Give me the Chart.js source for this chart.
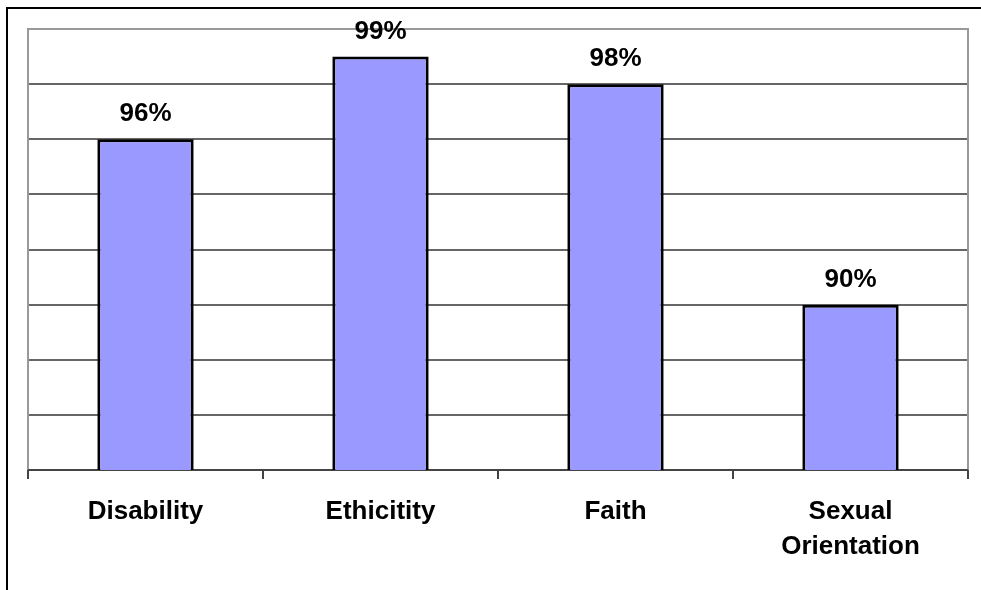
<!DOCTYPE html>
<html>
<head>
<meta charset="utf-8">
<script src="https://cdn.jsdelivr.net/npm/chart.js@4"></script>
<style>
  html, body { margin: 0; padding: 0; background: #fff; overflow: hidden; }
  #frame { position: absolute; left: 6px; top: 7px; width: 1000px; height: 600px;
           border-left: 2px solid #000; border-top: 2px solid #000; }
  #mainChart { position: absolute; left: 0; top: 0; }
</style>
</head>
<body>
<div id="frame"></div>
<canvas id="mainChart" width="981" height="590"></canvas>
<script>
const categories = ['Disability', 'Ethicitity', 'Faith', ['Sexual', 'Orientation']];
const percentages = [96, 99, 98, 90];
const yMin = 84;
const yMax = 100;
const yStep = 2;

const labelFont = { family: "'Liberation Sans', Arial, sans-serif", size: 26, weight: 'bold', lineHeight: '35px' };

// outline of the plot area (gray box)
const plotFrame = {
    id: 'plotFrame',
    beforeDatasetsDraw(chart) {
        const { ctx, chartArea: a } = chart;
        ctx.save();
        ctx.strokeStyle = '#999';
        ctx.lineWidth = 2;
        ctx.beginPath();
        ctx.moveTo(a.left, a.bottom);
        ctx.lineTo(a.left, a.top);
        ctx.lineTo(a.right, a.top);
        ctx.lineTo(a.right, a.bottom);
        ctx.stroke();
        ctx.strokeStyle = '#444';
        ctx.beginPath();
        ctx.moveTo(a.left, a.bottom);
        ctx.lineTo(a.right, a.bottom);
        ctx.stroke();
        ctx.restore();
    }
};

// value labels above the bars
const barValues = {
    id: 'barValues',
    afterDatasetsDraw(chart) {
        const { ctx } = chart;
        ctx.save();
        ctx.font = "bold 26px 'Liberation Sans', Arial, sans-serif";
        ctx.fillStyle = '#000';
        ctx.textAlign = 'center';
        ctx.textBaseline = 'alphabetic';
        chart.getDatasetMeta(0).data.forEach((bar, i) => {
            ctx.fillText(percentages[i] + '%', bar.x, bar.y - 18);
        });
        ctx.restore();
    }
};

new Chart(document.getElementById('mainChart'), {
    type: 'bar',
    data: {
        labels: categories,
        datasets: [{
            label: 'Percent',
            data: percentages,
            backgroundColor: '#9999FF',
            borderColor: '#000',
            borderWidth: 3,
            borderSkipped: false,
            categoryPercentage: 1,
            barPercentage: 0.41,
        }]
    },
    options: {
        responsive: false,
        animation: false,
        layout: {
            padding: { left: 28, top: 29, right: 13, bottom: 0 }
        },
        scales: {
            y: {
                min: yMin,
                max: yMax,
                ticks: { display: false, stepSize: yStep },
                grid: {
                    drawTicks: false,
                    color: (c) => (c.tick && c.tick.value === yMax) ? '#999' : '#666',
                    lineWidth: 2,
                },
                border: { display: false }
            },
            x: {
                afterFit: (scale) => { scale.height = 120; },
                ticks: {
                    color: '#000',
                    font: labelFont,
                    padding: 15,
                    maxRotation: 0,
                    autoSkip: false,
                },
                grid: {
                    drawOnChartArea: false,
                    tickLength: 9,
                    color: '#444',
                    lineWidth: 2,
                },
                border: { display: false }
            }
        },
        plugins: {
            legend: { display: false },
            tooltip: { enabled: false },
            title: { display: false }
        }
    },
    plugins: [plotFrame, barValues]
});
</script>
</body>
</html>
